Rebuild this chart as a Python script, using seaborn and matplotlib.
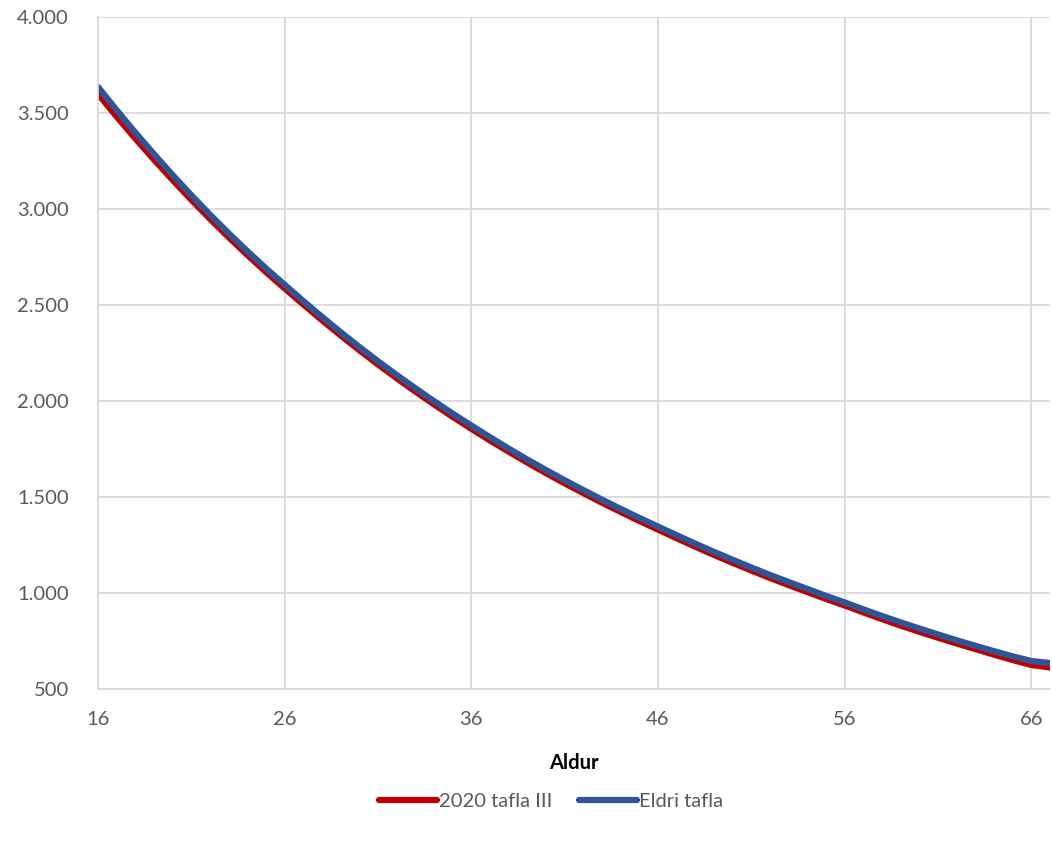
import pandas as pd
import matplotlib.pyplot as plt
import matplotlib.ticker as mticker
import seaborn as sns

# Data
ages = list(range(16, 68))
tafla_2020 = [3598, 3480, 3366, 3256, 3150, 3047, 2948, 2852, 2760, 2671,
              2586, 2502, 2420, 2341, 2264, 2190, 2118, 2049, 1982, 1917,
              1855, 1794, 1736, 1679, 1624, 1571, 1520, 1470, 1422, 1375,
              1330, 1285, 1241, 1198, 1157, 1117, 1078, 1041, 1005, 969,
              935, 899, 864, 830, 798, 767, 737, 708, 679, 651,
              625, 612]
eldri_tafla = [3635, 3514, 3397, 3285, 3176, 3071, 2970, 2873, 2780, 2690,
               2605, 2520, 2438, 2358, 2281, 2207, 2135, 2066, 1999, 1934,
               1872, 1811, 1752, 1695, 1640, 1587, 1536, 1486, 1438, 1391,
               1346, 1301, 1257, 1214, 1173, 1133, 1094, 1057, 1021, 985,
               951, 915, 880, 847, 815, 784, 754, 725, 697, 670,
               646, 635]
series_names = ["2020 tafla III", "Eldri tafla"]
colors = ["#C00000", "#2F5597"]

df = pd.concat([
    pd.DataFrame({"Aldur": ages, "value": tafla_2020, "series": series_names[0]}),
    pd.DataFrame({"Aldur": ages, "value": eldri_tafla, "series": series_names[1]}),
])

sns.set_style("white")
plt.rcParams["font.family"] = ["Lato", "DejaVu Sans"]

fig = plt.figure(figsize=(10.52, 8.43), dpi=100)
ax = fig.add_axes([0.0932, 0.1827, 0.9048, 0.7973])

sns.lineplot(data=df, x="Aldur", y="value", hue="series", hue_order=series_names,
             palette=colors, linewidth=4.5, ax=ax, legend=False)

ax.set_xlim(16, 67)
ax.set_ylim(500, 4000)
ax.set_xticks(range(16, 67, 10))
ax.set_yticks(range(500, 4001, 500))
ax.yaxis.set_major_formatter(mticker.FuncFormatter(lambda v, p: f"{int(v):,}".replace(",", ".")))
ax.grid(True, color="#d9d9d9", linewidth=1.3)
ax.set_axisbelow(True)
for s in ["top", "right"]:
    ax.spines[s].set_visible(False)
for s in ["left", "bottom"]:
    ax.spines[s].set_color("#d9d9d9")
    ax.spines[s].set_linewidth(1.3)
ax.tick_params(axis="both", length=0, labelsize=14.5, labelcolor="#595959")
ax.tick_params(axis="y", pad=21)
ax.tick_params(axis="x", pad=16)
ax.set_xlabel("Aldur", fontsize=14.5, fontweight="bold", color="black", labelpad=18)
ax.set_ylabel("")

handles = [plt.Line2D([], [], color=c, linewidth=4.5) for c in colors]
fig.legend(handles, series_names, loc="center", bbox_to_anchor=(0.524, 0.049),
           ncol=2, frameon=False, fontsize=14.5, handlelength=2.9, handletextpad=0.1,
           columnspacing=1.3, labelcolor="#595959")

plt.savefig("out.png", dpi=100)
